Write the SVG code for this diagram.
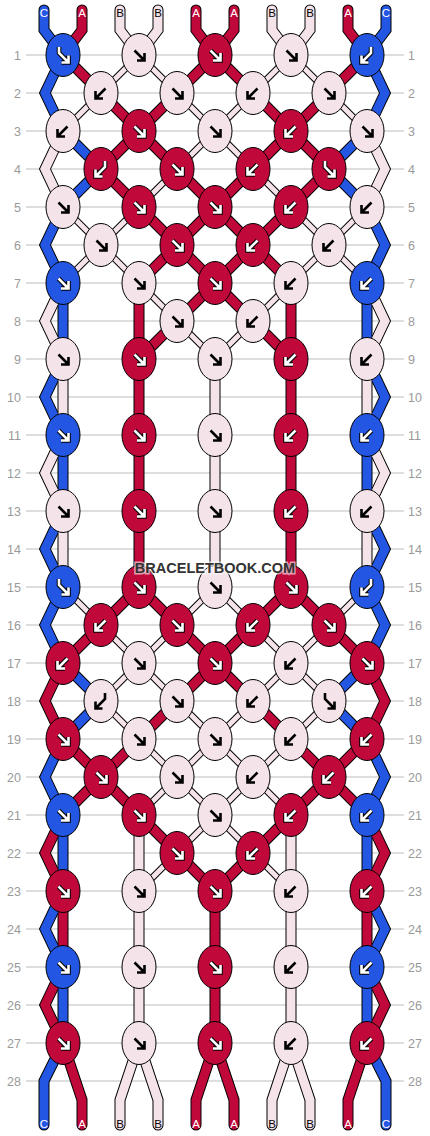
<svg xmlns="http://www.w3.org/2000/svg" xmlns:xlink="http://www.w3.org/1999/xlink" width="430" height="1136" viewBox="0 0 430 1136">
<style>
.grid line{stroke:#bdbdbd;stroke-width:1}
.num{font-family:"Liberation Sans",Arial,sans-serif;font-size:12.5px;fill:#9a9a9a}
.l{text-anchor:end}
.o{fill:none;stroke:#000;stroke-width:11}
.ot{fill:none;stroke:#000;stroke-width:7}
.sc{fill:none;stroke:#2356e2;stroke-width:9}
.sa{fill:none;stroke:#c1083a;stroke-width:9}
.sb{fill:none;stroke:#f5e3ea;stroke-width:9}
.st{fill:none;stroke:#f5e3ea;stroke-width:5}
.kc{fill:#2356e2;stroke:#000;stroke-width:1}
.ka{fill:#c1083a;stroke:#000;stroke-width:1}
.kb{fill:#f5e3ea;stroke:#000;stroke-width:1}
.ao{fill:none;stroke:#000;stroke-width:4.6}
.aw{fill:none;stroke:#fff;stroke-width:2.6}
.ab{fill:none;stroke:#000;stroke-width:2.6}
.lab{font-family:"Liberation Sans",Arial,sans-serif;font-size:11.5px;text-anchor:middle}
.lw{fill:#fff}
.lk{fill:#000}
.wm{font-family:"Liberation Sans",Arial,sans-serif;font-weight:bold;font-size:14.5px;fill:#333;stroke:#fff;stroke-opacity:.6;stroke-width:3;paint-order:stroke;text-anchor:middle}
</style>
<defs>
<path id="pF" d="M-4.5,-4.5L4.5,4.5M5.5,-2V5.5H-2"/>
<path id="pB" d="M4.5,-4.5L-4.5,4.5M-5.5,-2V5.5H2"/>
<path id="pFB" d="M-4,-8V-2L4.5,6.5M5.5,0.5V7.5H-1.5"/>
<path id="pBF" d="M4,-8V-2L-4.5,6.5M-5.5,0.5V7.5H1.5"/>
<g id="wF"><use href="#pF" class="ao"/><use href="#pF" class="aw"/></g>
<g id="wB"><use href="#pB" class="ao"/><use href="#pB" class="aw"/></g>
<g id="wFB"><use href="#pFB" class="ao"/><use href="#pFB" class="aw"/></g>
<g id="wBF"><use href="#pBF" class="ao"/><use href="#pBF" class="aw"/></g>
<g id="kF"><use href="#pF" class="ab"/></g>
<g id="kB"><use href="#pB" class="ab"/></g>
<g id="kFB"><use href="#pFB" class="ab"/></g>
<g id="kBF"><use href="#pBF" class="ab"/></g>
<g id="gC">
<path stroke-linecap="round" d="M44,10V30L63,55M386,10V30L367,55M63,1043L44,1081V1125M367,1043L386,1081V1125"/>
<path d="M63,55L45,93L63,131M367,55L385,93L367,131M63,131L101,169L63,207M367,131L329,169L367,207M63,207L45,245L63,283M367,207L385,245L367,283M63,283V359M367,283V359M63,359L45,397L63,435M367,359L385,397L367,435M63,435V511M367,435V511M63,511L45,549L63,587M367,511L385,549L367,587M63,587L45,625L63,663M367,587L385,625L367,663M63,663L101,701L63,739M367,663L329,701L367,739M63,739L45,777L63,815M367,739L385,777L367,815M63,815V891M367,815V891M63,891L45,929L63,967M367,891L385,929L367,967M63,967V1043M367,967V1043"/>
</g>
<g id="gA">
<path stroke-linecap="round" d="M82,10V30L63,55M196,10V30L215,55M234,10V30L215,55M348,10V30L367,55M63,1043L82,1100V1125M215,1043L196,1100V1125M215,1043L234,1100V1125M367,1043L348,1100V1125"/>
<path d="M63,55L101,93L139,131M215,55L177,93L139,131M215,55L253,93L291,131M367,55L329,93L291,131M139,131L101,169L139,207M139,131L177,169L215,207M291,131L253,169L215,207M291,131L329,169L291,207M139,207L177,245L139,283M215,207L177,245L215,283M215,207L253,245L215,283M291,207L253,245L291,283M139,283V359M291,283V359M215,283L177,321L139,359M215,283L253,321L291,359M139,359V587M291,359V587M139,587L101,625L63,663M139,587L177,625L215,663M291,587L253,625L215,663M291,587L329,625L367,663M63,663L45,701L63,739M367,663L385,701L367,739M215,663L177,701L139,739M215,663L253,701L291,739M63,739L101,777L63,815M139,739L101,777L139,815M291,739L329,777L291,815M367,739L329,777L367,815M63,815L45,853L63,891M367,815L385,853L367,891M139,815L177,853L215,891M291,815L253,853L215,891M63,891V967M215,891V1043M367,891V967M63,967L45,1005L63,1043M367,967L385,1005L367,1043"/>
</g>
<g id="gB">
<path stroke-linecap="round" d="M120,10V30L139,55M158,10V30L139,55M272,10V30L291,55M310,10V30L291,55M139,1043L120,1100V1125M139,1043L158,1100V1125M291,1043L272,1100V1125M291,1043L310,1100V1125"/>
<path d="M63,131L45,169L63,207M367,131L385,169L367,207M63,283L45,321L63,359M367,283L385,321L367,359M63,359V435M215,359V587M367,359V435M63,435L45,473L63,511M367,435L385,473L367,511M63,511V587M367,511V587M139,815V1043M291,815V1043"/>
</g>
<g id="gT">
<path d="M139,55L101,93L63,131M139,55L177,93L215,131M291,55L253,93L215,131M291,55L329,93L367,131M215,131L177,169L139,207M215,131L253,169L291,207M63,207L101,245L63,283M139,207L101,245L139,283M291,207L329,245L291,283M367,207L329,245L367,283M139,283L177,321L215,359M291,283L253,321L215,359M63,587L101,625L139,663M215,587L177,625L139,663M215,587L253,625L291,663M367,587L329,625L291,663M139,663L101,701L139,739M139,663L177,701L215,739M291,663L253,701L215,739M291,663L329,701L291,739M139,739L177,777L139,815M215,739L177,777L215,815M215,739L253,777L215,815M291,739L253,777L291,815M215,815L177,853L139,891M215,815L253,853L291,891"/>
</g>
</defs>
<rect width="430" height="1136" fill="#fff"/>
<g class="grid">
<line x1="26" x2="404" y1="55" y2="55"/><line x1="26" x2="404" y1="93" y2="93"/><line x1="26" x2="404" y1="131" y2="131"/><line x1="26" x2="404" y1="169" y2="169"/><line x1="26" x2="404" y1="207" y2="207"/><line x1="26" x2="404" y1="245" y2="245"/><line x1="26" x2="404" y1="283" y2="283"/><line x1="26" x2="404" y1="321" y2="321"/><line x1="26" x2="404" y1="359" y2="359"/><line x1="26" x2="404" y1="397" y2="397"/><line x1="26" x2="404" y1="435" y2="435"/><line x1="26" x2="404" y1="473" y2="473"/><line x1="26" x2="404" y1="511" y2="511"/><line x1="26" x2="404" y1="549" y2="549"/><line x1="26" x2="404" y1="587" y2="587"/><line x1="26" x2="404" y1="625" y2="625"/><line x1="26" x2="404" y1="663" y2="663"/><line x1="26" x2="404" y1="701" y2="701"/><line x1="26" x2="404" y1="739" y2="739"/><line x1="26" x2="404" y1="777" y2="777"/><line x1="26" x2="404" y1="815" y2="815"/><line x1="26" x2="404" y1="853" y2="853"/><line x1="26" x2="404" y1="891" y2="891"/><line x1="26" x2="404" y1="929" y2="929"/><line x1="26" x2="404" y1="967" y2="967"/><line x1="26" x2="404" y1="1005" y2="1005"/><line x1="26" x2="404" y1="1043" y2="1043"/><line x1="26" x2="404" y1="1081" y2="1081"/>
</g>
<g class="num">
<text class="l" x="21" y="59.5">1</text><text x="408" y="59.5">1</text>
<text class="l" x="21" y="97.5">2</text><text x="408" y="97.5">2</text>
<text class="l" x="21" y="135.5">3</text><text x="408" y="135.5">3</text>
<text class="l" x="21" y="173.5">4</text><text x="408" y="173.5">4</text>
<text class="l" x="21" y="211.5">5</text><text x="408" y="211.5">5</text>
<text class="l" x="21" y="249.5">6</text><text x="408" y="249.5">6</text>
<text class="l" x="21" y="287.5">7</text><text x="408" y="287.5">7</text>
<text class="l" x="21" y="325.5">8</text><text x="408" y="325.5">8</text>
<text class="l" x="21" y="363.5">9</text><text x="408" y="363.5">9</text>
<text class="l" x="21" y="401.5">10</text><text x="408" y="401.5">10</text>
<text class="l" x="21" y="439.5">11</text><text x="408" y="439.5">11</text>
<text class="l" x="21" y="477.5">12</text><text x="408" y="477.5">12</text>
<text class="l" x="21" y="515.5">13</text><text x="408" y="515.5">13</text>
<text class="l" x="21" y="553.5">14</text><text x="408" y="553.5">14</text>
<text class="l" x="21" y="591.5">15</text><text x="408" y="591.5">15</text>
<text class="l" x="21" y="629.5">16</text><text x="408" y="629.5">16</text>
<text class="l" x="21" y="667.5">17</text><text x="408" y="667.5">17</text>
<text class="l" x="21" y="705.5">18</text><text x="408" y="705.5">18</text>
<text class="l" x="21" y="743.5">19</text><text x="408" y="743.5">19</text>
<text class="l" x="21" y="781.5">20</text><text x="408" y="781.5">20</text>
<text class="l" x="21" y="819.5">21</text><text x="408" y="819.5">21</text>
<text class="l" x="21" y="857.5">22</text><text x="408" y="857.5">22</text>
<text class="l" x="21" y="895.5">23</text><text x="408" y="895.5">23</text>
<text class="l" x="21" y="933.5">24</text><text x="408" y="933.5">24</text>
<text class="l" x="21" y="971.5">25</text><text x="408" y="971.5">25</text>
<text class="l" x="21" y="1009.5">26</text><text x="408" y="1009.5">26</text>
<text class="l" x="21" y="1047.5">27</text><text x="408" y="1047.5">27</text>
<text class="l" x="21" y="1085.5">28</text><text x="408" y="1085.5">28</text>
</g>
<g id="connectors">
<use href="#gC" class="o"/><use href="#gA" class="o"/><use href="#gB" class="o"/><use href="#gT" class="ot"/>
<use href="#gC" class="sc"/><use href="#gA" class="sa"/><use href="#gB" class="sb"/><use href="#gT" class="st"/>
</g>
<g id="string-labels" class="lab">
<text class="lw" x="44" y="16.5">C</text><text class="lw" x="82" y="16.5">A</text><text class="lk" x="120" y="16.5">B</text><text class="lk" x="158" y="16.5">B</text><text class="lw" x="196" y="16.5">A</text><text class="lw" x="234" y="16.5">A</text><text class="lk" x="272" y="16.5">B</text><text class="lk" x="310" y="16.5">B</text><text class="lw" x="348" y="16.5">A</text><text class="lw" x="386" y="16.5">C</text>
<text class="lw" x="44" y="1128">C</text><text class="lw" x="82" y="1128">A</text><text class="lk" x="120" y="1128">B</text><text class="lk" x="158" y="1128">B</text><text class="lw" x="196" y="1128">A</text><text class="lw" x="234" y="1128">A</text><text class="lk" x="272" y="1128">B</text><text class="lk" x="310" y="1128">B</text><text class="lw" x="348" y="1128">A</text><text class="lw" x="386" y="1128">C</text>
</g>
<g id="knots">
<g id="r1k1"><ellipse class="kc" cx="63" cy="55" rx="17" ry="21.5"/><use href="#wFB" x="63" y="55"/></g>
<g id="r1k2"><ellipse class="kb" cx="139" cy="55" rx="17" ry="21.5"/><use href="#kF" x="139" y="55"/></g>
<g id="r1k3"><ellipse class="ka" cx="215" cy="55" rx="17" ry="21.5"/><use href="#wF" x="215" y="55"/></g>
<g id="r1k4"><ellipse class="kb" cx="291" cy="55" rx="17" ry="21.5"/><use href="#kF" x="291" y="55"/></g>
<g id="r1k5"><ellipse class="kc" cx="367" cy="55" rx="17" ry="21.5"/><use href="#wBF" x="367" y="55"/></g>
<g id="r2k1"><ellipse class="kb" cx="101" cy="93" rx="17" ry="21.5"/><use href="#kB" x="101" y="93"/></g>
<g id="r2k2"><ellipse class="kb" cx="177" cy="93" rx="17" ry="21.5"/><use href="#kF" x="177" y="93"/></g>
<g id="r2k3"><ellipse class="kb" cx="253" cy="93" rx="17" ry="21.5"/><use href="#kB" x="253" y="93"/></g>
<g id="r2k4"><ellipse class="kb" cx="329" cy="93" rx="17" ry="21.5"/><use href="#kF" x="329" y="93"/></g>
<g id="r3k1"><ellipse class="kb" cx="63" cy="131" rx="17" ry="21.5"/><use href="#kB" x="63" y="131"/></g>
<g id="r3k2"><ellipse class="ka" cx="139" cy="131" rx="17" ry="21.5"/><use href="#wF" x="139" y="131"/></g>
<g id="r3k3"><ellipse class="kb" cx="215" cy="131" rx="17" ry="21.5"/><use href="#kF" x="215" y="131"/></g>
<g id="r3k4"><ellipse class="ka" cx="291" cy="131" rx="17" ry="21.5"/><use href="#wB" x="291" y="131"/></g>
<g id="r3k5"><ellipse class="kb" cx="367" cy="131" rx="17" ry="21.5"/><use href="#kF" x="367" y="131"/></g>
<g id="r4k1"><ellipse class="ka" cx="101" cy="169" rx="17" ry="21.5"/><use href="#wBF" x="101" y="169"/></g>
<g id="r4k2"><ellipse class="ka" cx="177" cy="169" rx="17" ry="21.5"/><use href="#wF" x="177" y="169"/></g>
<g id="r4k3"><ellipse class="ka" cx="253" cy="169" rx="17" ry="21.5"/><use href="#wB" x="253" y="169"/></g>
<g id="r4k4"><ellipse class="ka" cx="329" cy="169" rx="17" ry="21.5"/><use href="#wFB" x="329" y="169"/></g>
<g id="r5k1"><ellipse class="kb" cx="63" cy="207" rx="17" ry="21.5"/><use href="#kF" x="63" y="207"/></g>
<g id="r5k2"><ellipse class="ka" cx="139" cy="207" rx="17" ry="21.5"/><use href="#wF" x="139" y="207"/></g>
<g id="r5k3"><ellipse class="ka" cx="215" cy="207" rx="17" ry="21.5"/><use href="#wF" x="215" y="207"/></g>
<g id="r5k4"><ellipse class="ka" cx="291" cy="207" rx="17" ry="21.5"/><use href="#wB" x="291" y="207"/></g>
<g id="r5k5"><ellipse class="kb" cx="367" cy="207" rx="17" ry="21.5"/><use href="#kB" x="367" y="207"/></g>
<g id="r6k1"><ellipse class="kb" cx="101" cy="245" rx="17" ry="21.5"/><use href="#kF" x="101" y="245"/></g>
<g id="r6k2"><ellipse class="ka" cx="177" cy="245" rx="17" ry="21.5"/><use href="#wF" x="177" y="245"/></g>
<g id="r6k3"><ellipse class="ka" cx="253" cy="245" rx="17" ry="21.5"/><use href="#wB" x="253" y="245"/></g>
<g id="r6k4"><ellipse class="kb" cx="329" cy="245" rx="17" ry="21.5"/><use href="#kB" x="329" y="245"/></g>
<g id="r7k1"><ellipse class="kc" cx="63" cy="283" rx="17" ry="21.5"/><use href="#wF" x="63" y="283"/></g>
<g id="r7k2"><ellipse class="kb" cx="139" cy="283" rx="17" ry="21.5"/><use href="#kF" x="139" y="283"/></g>
<g id="r7k3"><ellipse class="ka" cx="215" cy="283" rx="17" ry="21.5"/><use href="#wF" x="215" y="283"/></g>
<g id="r7k4"><ellipse class="kb" cx="291" cy="283" rx="17" ry="21.5"/><use href="#kB" x="291" y="283"/></g>
<g id="r7k5"><ellipse class="kc" cx="367" cy="283" rx="17" ry="21.5"/><use href="#wB" x="367" y="283"/></g>
<g id="r8k2"><ellipse class="kb" cx="177" cy="321" rx="17" ry="21.5"/><use href="#kF" x="177" y="321"/></g>
<g id="r8k3"><ellipse class="kb" cx="253" cy="321" rx="17" ry="21.5"/><use href="#kB" x="253" y="321"/></g>
<g id="r9k1"><ellipse class="kb" cx="63" cy="359" rx="17" ry="21.5"/><use href="#kF" x="63" y="359"/></g>
<g id="r9k2"><ellipse class="ka" cx="139" cy="359" rx="17" ry="21.5"/><use href="#wF" x="139" y="359"/></g>
<g id="r9k3"><ellipse class="kb" cx="215" cy="359" rx="17" ry="21.5"/><use href="#kF" x="215" y="359"/></g>
<g id="r9k4"><ellipse class="ka" cx="291" cy="359" rx="17" ry="21.5"/><use href="#wB" x="291" y="359"/></g>
<g id="r9k5"><ellipse class="kb" cx="367" cy="359" rx="17" ry="21.5"/><use href="#kB" x="367" y="359"/></g>
<g id="r11k1"><ellipse class="kc" cx="63" cy="435" rx="17" ry="21.5"/><use href="#wF" x="63" y="435"/></g>
<g id="r11k2"><ellipse class="ka" cx="139" cy="435" rx="17" ry="21.5"/><use href="#wF" x="139" y="435"/></g>
<g id="r11k3"><ellipse class="kb" cx="215" cy="435" rx="17" ry="21.5"/><use href="#kF" x="215" y="435"/></g>
<g id="r11k4"><ellipse class="ka" cx="291" cy="435" rx="17" ry="21.5"/><use href="#wB" x="291" y="435"/></g>
<g id="r11k5"><ellipse class="kc" cx="367" cy="435" rx="17" ry="21.5"/><use href="#wB" x="367" y="435"/></g>
<g id="r13k1"><ellipse class="kb" cx="63" cy="511" rx="17" ry="21.5"/><use href="#kF" x="63" y="511"/></g>
<g id="r13k2"><ellipse class="ka" cx="139" cy="511" rx="17" ry="21.5"/><use href="#wF" x="139" y="511"/></g>
<g id="r13k3"><ellipse class="kb" cx="215" cy="511" rx="17" ry="21.5"/><use href="#kF" x="215" y="511"/></g>
<g id="r13k4"><ellipse class="ka" cx="291" cy="511" rx="17" ry="21.5"/><use href="#wB" x="291" y="511"/></g>
<g id="r13k5"><ellipse class="kb" cx="367" cy="511" rx="17" ry="21.5"/><use href="#kB" x="367" y="511"/></g>
<g id="r15k1"><ellipse class="kc" cx="63" cy="587" rx="17" ry="21.5"/><use href="#wFB" x="63" y="587"/></g>
<g id="r15k2"><ellipse class="ka" cx="139" cy="587" rx="17" ry="21.5"/><use href="#wF" x="139" y="587"/></g>
<g id="r15k3"><ellipse class="kb" cx="215" cy="587" rx="17" ry="21.5"/><use href="#kF" x="215" y="587"/></g>
<g id="r15k4"><ellipse class="ka" cx="291" cy="587" rx="17" ry="21.5"/><use href="#wF" x="291" y="587"/></g>
<g id="r15k5"><ellipse class="kc" cx="367" cy="587" rx="17" ry="21.5"/><use href="#wBF" x="367" y="587"/></g>
<g id="r16k1"><ellipse class="ka" cx="101" cy="625" rx="17" ry="21.5"/><use href="#wB" x="101" y="625"/></g>
<g id="r16k2"><ellipse class="ka" cx="177" cy="625" rx="17" ry="21.5"/><use href="#wF" x="177" y="625"/></g>
<g id="r16k3"><ellipse class="ka" cx="253" cy="625" rx="17" ry="21.5"/><use href="#wB" x="253" y="625"/></g>
<g id="r16k4"><ellipse class="ka" cx="329" cy="625" rx="17" ry="21.5"/><use href="#wF" x="329" y="625"/></g>
<g id="r17k1"><ellipse class="ka" cx="63" cy="663" rx="17" ry="21.5"/><use href="#wB" x="63" y="663"/></g>
<g id="r17k2"><ellipse class="kb" cx="139" cy="663" rx="17" ry="21.5"/><use href="#kF" x="139" y="663"/></g>
<g id="r17k3"><ellipse class="ka" cx="215" cy="663" rx="17" ry="21.5"/><use href="#wF" x="215" y="663"/></g>
<g id="r17k4"><ellipse class="kb" cx="291" cy="663" rx="17" ry="21.5"/><use href="#kB" x="291" y="663"/></g>
<g id="r17k5"><ellipse class="ka" cx="367" cy="663" rx="17" ry="21.5"/><use href="#wF" x="367" y="663"/></g>
<g id="r18k1"><ellipse class="kb" cx="101" cy="701" rx="17" ry="21.5"/><use href="#kBF" x="101" y="701"/></g>
<g id="r18k2"><ellipse class="kb" cx="177" cy="701" rx="17" ry="21.5"/><use href="#kF" x="177" y="701"/></g>
<g id="r18k3"><ellipse class="kb" cx="253" cy="701" rx="17" ry="21.5"/><use href="#kB" x="253" y="701"/></g>
<g id="r18k4"><ellipse class="kb" cx="329" cy="701" rx="17" ry="21.5"/><use href="#kFB" x="329" y="701"/></g>
<g id="r19k1"><ellipse class="ka" cx="63" cy="739" rx="17" ry="21.5"/><use href="#wF" x="63" y="739"/></g>
<g id="r19k2"><ellipse class="kb" cx="139" cy="739" rx="17" ry="21.5"/><use href="#kF" x="139" y="739"/></g>
<g id="r19k3"><ellipse class="kb" cx="215" cy="739" rx="17" ry="21.5"/><use href="#kF" x="215" y="739"/></g>
<g id="r19k4"><ellipse class="kb" cx="291" cy="739" rx="17" ry="21.5"/><use href="#kB" x="291" y="739"/></g>
<g id="r19k5"><ellipse class="ka" cx="367" cy="739" rx="17" ry="21.5"/><use href="#wB" x="367" y="739"/></g>
<g id="r20k1"><ellipse class="ka" cx="101" cy="777" rx="17" ry="21.5"/><use href="#wF" x="101" y="777"/></g>
<g id="r20k2"><ellipse class="kb" cx="177" cy="777" rx="17" ry="21.5"/><use href="#kF" x="177" y="777"/></g>
<g id="r20k3"><ellipse class="kb" cx="253" cy="777" rx="17" ry="21.5"/><use href="#kB" x="253" y="777"/></g>
<g id="r20k4"><ellipse class="ka" cx="329" cy="777" rx="17" ry="21.5"/><use href="#wB" x="329" y="777"/></g>
<g id="r21k1"><ellipse class="kc" cx="63" cy="815" rx="17" ry="21.5"/><use href="#wF" x="63" y="815"/></g>
<g id="r21k2"><ellipse class="ka" cx="139" cy="815" rx="17" ry="21.5"/><use href="#wF" x="139" y="815"/></g>
<g id="r21k3"><ellipse class="kb" cx="215" cy="815" rx="17" ry="21.5"/><use href="#kF" x="215" y="815"/></g>
<g id="r21k4"><ellipse class="ka" cx="291" cy="815" rx="17" ry="21.5"/><use href="#wB" x="291" y="815"/></g>
<g id="r21k5"><ellipse class="kc" cx="367" cy="815" rx="17" ry="21.5"/><use href="#wB" x="367" y="815"/></g>
<g id="r22k2"><ellipse class="ka" cx="177" cy="853" rx="17" ry="21.5"/><use href="#wF" x="177" y="853"/></g>
<g id="r22k3"><ellipse class="ka" cx="253" cy="853" rx="17" ry="21.5"/><use href="#wB" x="253" y="853"/></g>
<g id="r23k1"><ellipse class="ka" cx="63" cy="891" rx="17" ry="21.5"/><use href="#wF" x="63" y="891"/></g>
<g id="r23k2"><ellipse class="kb" cx="139" cy="891" rx="17" ry="21.5"/><use href="#kF" x="139" y="891"/></g>
<g id="r23k3"><ellipse class="ka" cx="215" cy="891" rx="17" ry="21.5"/><use href="#wF" x="215" y="891"/></g>
<g id="r23k4"><ellipse class="kb" cx="291" cy="891" rx="17" ry="21.5"/><use href="#kB" x="291" y="891"/></g>
<g id="r23k5"><ellipse class="ka" cx="367" cy="891" rx="17" ry="21.5"/><use href="#wB" x="367" y="891"/></g>
<g id="r25k1"><ellipse class="kc" cx="63" cy="967" rx="17" ry="21.5"/><use href="#wF" x="63" y="967"/></g>
<g id="r25k2"><ellipse class="kb" cx="139" cy="967" rx="17" ry="21.5"/><use href="#kF" x="139" y="967"/></g>
<g id="r25k3"><ellipse class="ka" cx="215" cy="967" rx="17" ry="21.5"/><use href="#wF" x="215" y="967"/></g>
<g id="r25k4"><ellipse class="kb" cx="291" cy="967" rx="17" ry="21.5"/><use href="#kB" x="291" y="967"/></g>
<g id="r25k5"><ellipse class="kc" cx="367" cy="967" rx="17" ry="21.5"/><use href="#wB" x="367" y="967"/></g>
<g id="r27k1"><ellipse class="ka" cx="63" cy="1043" rx="17" ry="21.5"/><use href="#wF" x="63" y="1043"/></g>
<g id="r27k2"><ellipse class="kb" cx="139" cy="1043" rx="17" ry="21.5"/><use href="#kF" x="139" y="1043"/></g>
<g id="r27k3"><ellipse class="ka" cx="215" cy="1043" rx="17" ry="21.5"/><use href="#wF" x="215" y="1043"/></g>
<g id="r27k4"><ellipse class="kb" cx="291" cy="1043" rx="17" ry="21.5"/><use href="#kB" x="291" y="1043"/></g>
<g id="r27k5"><ellipse class="ka" cx="367" cy="1043" rx="17" ry="21.5"/><use href="#wB" x="367" y="1043"/></g>
</g>
<text class="wm" x="215" y="573">BRACELETBOOK.COM</text>
</svg>
